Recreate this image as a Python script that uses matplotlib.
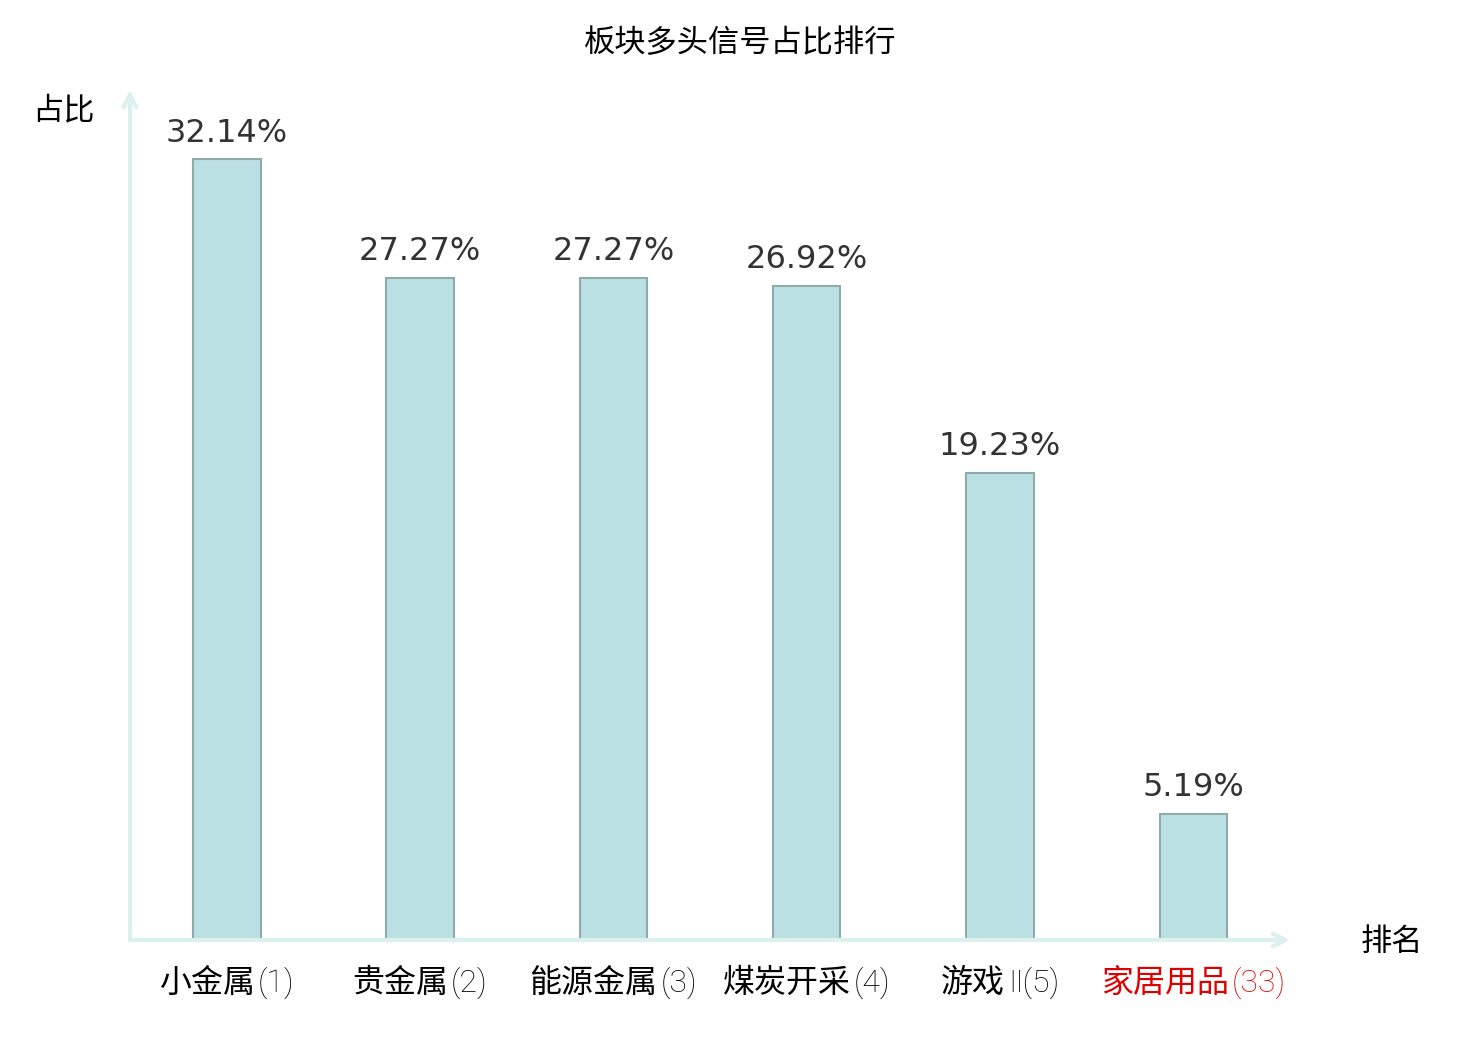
import matplotlib
matplotlib.use("Agg")
import matplotlib.pyplot as plt
import matplotlib.transforms as mtransforms

plt.rcParams['font.family'] = ['Noto Sans CJK SC', 'DejaVu Sans']

categories = ["小金属", "贵金属", "能源金属", "煤炭开采", "游戏", "家居用品"]
suffixes = ["(1)", "(2)", "(3)", "(4)", "Ⅱ(5)", "(33)"]
values = [32.14, 27.27, 27.27, 26.92, 19.23, 5.19]
label_colors = ["black", "black", "black", "black", "black", "#e00000"]

DPI = 100
fig = plt.figure(figsize=(14.8, 10.4), dpi=DPI)
ax = fig.add_axes([130/1480, 100/1040, 1160/1480, 850/1040])
x = list(range(len(categories)))
ax.bar(x, values, width=0.35, color="#bbe0e3", edgecolor="#8eaaab", linewidth=1.5, zorder=3)
ax.set_xlim(-0.5, 5.5)
ax.set_ylim(0, 35)
for s in ax.spines.values():
    s.set_visible(False)
ax.set_yticks([])
ax.set_xticks([])

for xi, v in zip(x, values):
    ax.text(xi, v + 0.45, f"{v:.2f}%", ha="center", va="bottom", fontsize=23,
            color="#333333", family="DejaVu Sans")

# category labels: CJK part regular, rank part light
renderer = fig.canvas.get_renderer()
trans = mtransforms.blended_transform_factory(ax.transData, ax.transAxes)
label_y = -(983 - 940) / 850
GAP = 3
for xi, cat, suf, col in zip(x, categories, suffixes, label_colors):
    t1 = ax.text(xi, label_y, cat, transform=trans, ha="left", va="center",
                 fontsize=23, color=col, family=["Noto Sans CJK SC", "DejaVu Sans"])
    t2 = ax.text(xi, label_y, suf, transform=trans, ha="left", va="center",
                 fontsize=23, color=col, family=["Roboto", "DejaVu Sans"], weight="light")
    w1 = t1.get_window_extent(renderer).width
    w2 = t2.get_window_extent(renderer).width
    total = w1 + w2 + GAP
    t1.set_transform(mtransforms.offset_copy(trans, fig=fig, x=-total / 2 * 72 / DPI, units="points"))
    t2.set_transform(mtransforms.offset_copy(trans, fig=fig, x=(-total / 2 + w1 + GAP) * 72 / DPI, units="points"))

arrow_col = "#dcf0ee"
ax.annotate("", xy=(1.0, 0), xytext=(0, 0), xycoords="axes fraction",
            arrowprops=dict(arrowstyle="->,head_length=0.9,head_width=0.45", color=arrow_col, lw=3,
                            shrinkA=0, shrinkB=0), annotation_clip=False)
ax.annotate("", xy=(0, 1.0), xytext=(0, 0), xycoords="axes fraction",
            arrowprops=dict(arrowstyle="->,head_length=0.9,head_width=0.45", color=arrow_col, lw=3,
                            shrinkA=0, shrinkB=0), annotation_clip=False)

fig.text(740/1480, 1 - 43/1040, "板块多头信号占比排行", ha="center", va="center", fontsize=22.5)
fig.text(63/1480, 1 - 110/1040, "占比", ha="center", va="center", fontsize=22.5)
fig.text(1392/1480, 1 - 942/1040, "排名", ha="center", va="center", fontsize=22.5)

fig.savefig("out.png", dpi=DPI)
